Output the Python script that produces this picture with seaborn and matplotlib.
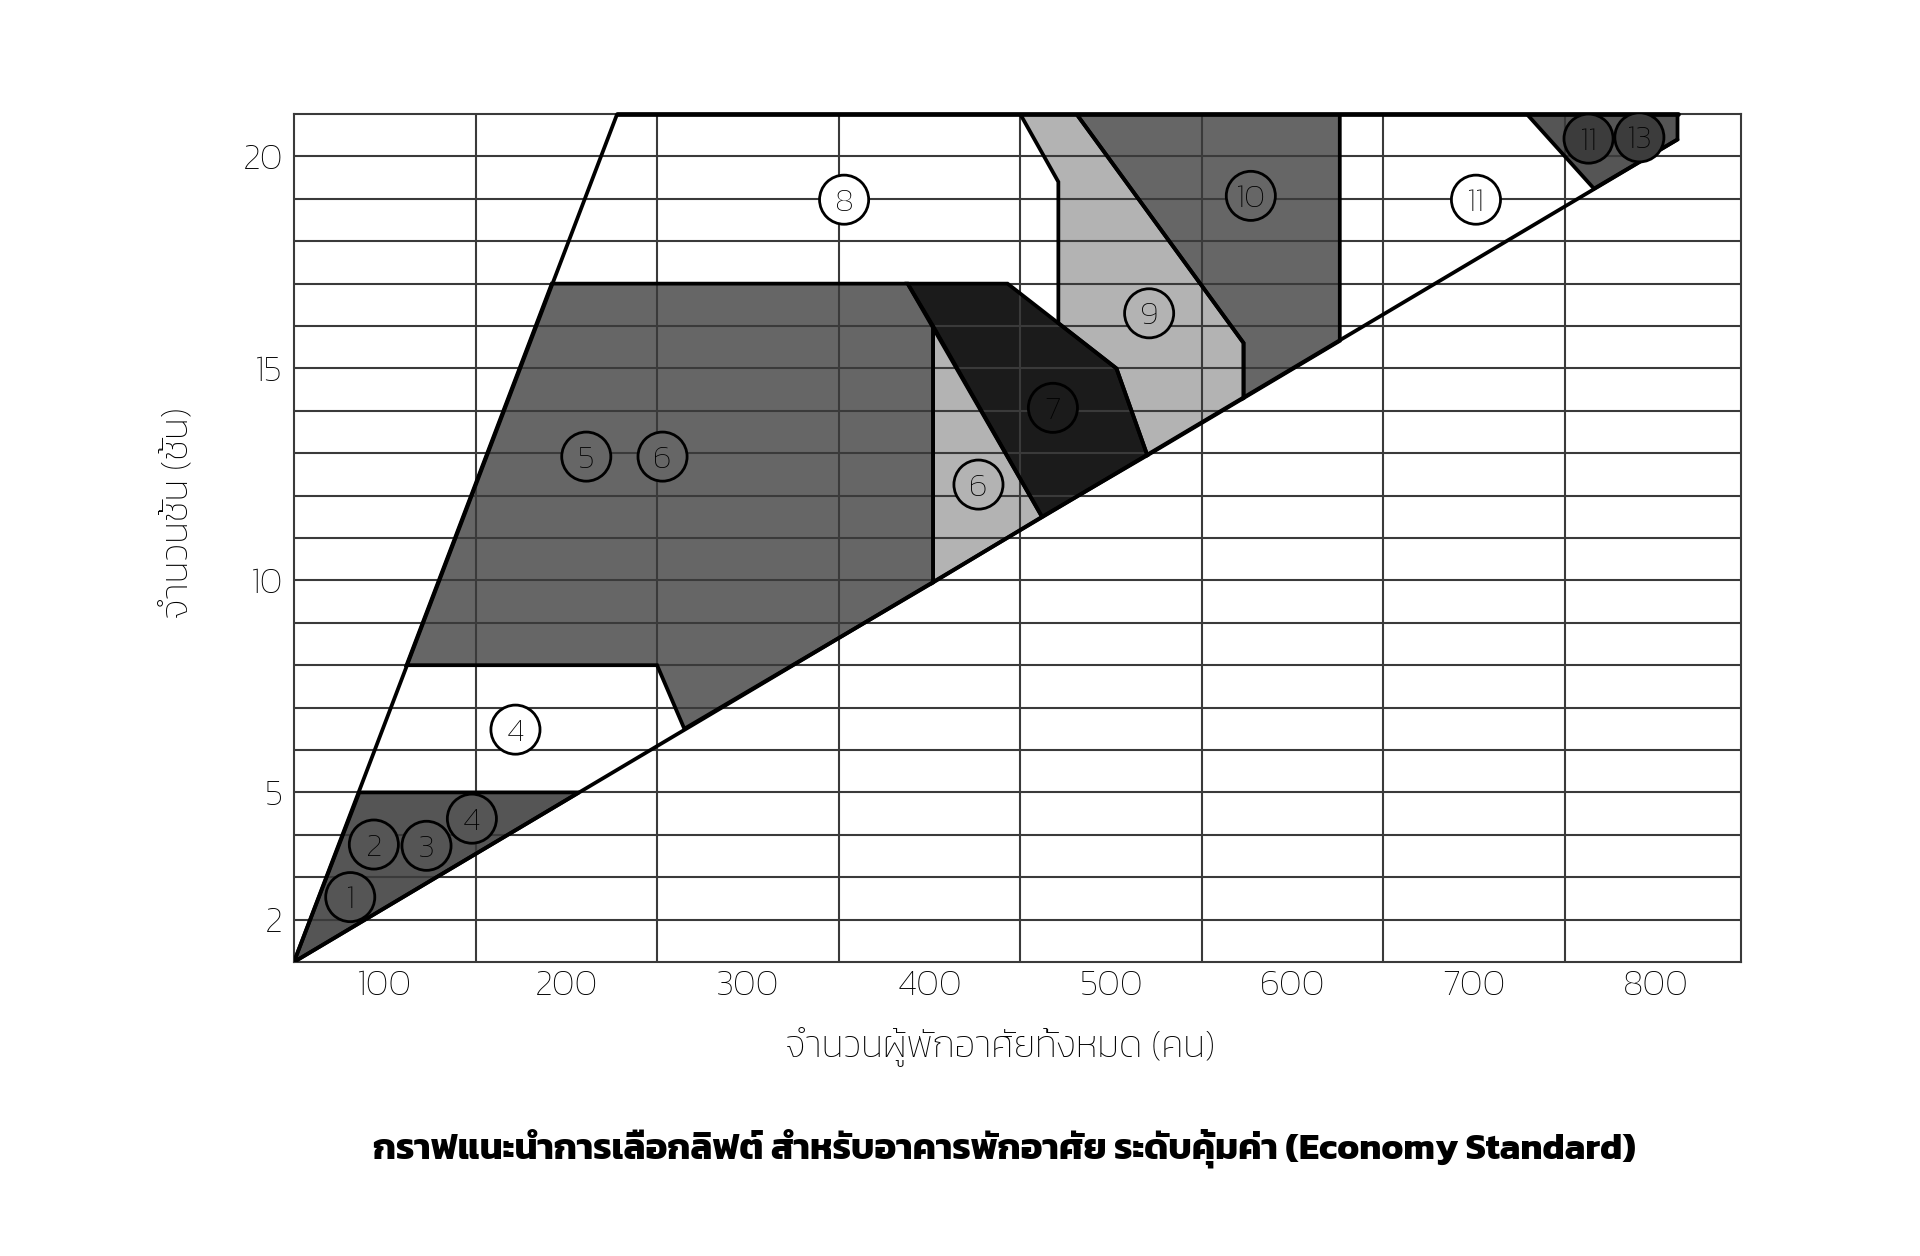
import matplotlib
matplotlib.use("Agg")
import matplotlib.pyplot as plt
import seaborn as sns

# -----------------------------
# data (persons on x, floors on y)
# -----------------------------
x_ticks = [100, 200, 300, 400, 500, 600, 700, 800]
y_ticks = [2, 5, 10, 15, 20]

# outer boundary lines
left_x = [50, 228]
left_y = [1, 21]
low_x = [50, 812]
low_y = [1, 20.4]
top_x = [228, 812]
top_y = [21, 21]

# zones (polygons)
zone_1to4_x = [50, 86, 207]
zone_1to4_y = [1, 5, 5]
zone_56_x = [112, 192, 388, 402, 402, 265, 250]
zone_56_y = [8, 17, 17, 16, 9.95, 6.5, 8]
zone_6_x = [402, 402, 462]
zone_6_y = [16, 9.95, 11.5]
zone_7_x = [388, 443, 503, 520, 462]
zone_7_y = [17, 17, 15, 12.95, 11.5]
zone_9_x = [450, 481, 573, 573, 520, 503, 471, 471]
zone_9_y = [21, 21, 15.6, 14.3, 12.95, 15, 16.07, 19.4]
zone_10_x = [481, 626, 626, 573, 573]
zone_10_y = [21, 21, 15.65, 14.3, 15.6]
zone_1113_x = [729, 812, 812, 766]
zone_1113_y = [21, 21, 20.4, 19.24]

# circled numbers
label_text = ["1", "2", "3", "4", "4", "5", "6", "6", "7", "8", "9", "10", "11", "11", "13"]
label_x = [81, 94, 123, 148, 172, 211, 253, 427, 468, 353, 521, 577, 701, 763, 791]
label_y = [2.53, 3.77, 3.74, 4.38, 6.48, 12.92, 12.92, 12.26, 14.07, 18.98, 16.3, 19.07, 18.98, 20.42, 20.45]
label_fill = ["dark", "dark", "dark", "dark", "white", "mid", "mid", "light", "black",
              "white", "light", "mid", "white", "deep", "deep"]

x_title = "จำนวนผู้พักอาศัยทั้งหมด (คน)"
y_title = "จำนวนชั้น (ชั้น)"
chart_title = "กราฟแนะนำการเลือกลิฟต์ สำหรับอาคารพักอาศัย ระดับคุ้มค่า (Economy Standard)"

colors = {"dark": "#555555", "mid": "#666666", "light": "#b3b3b3",
          "black": "#1b1b1b", "white": "#ffffff", "deep": "#3c3c3c"}

# -----------------------------
# style
# -----------------------------
sns.set_style("white")
plt.rcParams["font.family"] = ["Kanit", "DejaVu Sans"]
grid_col = "#3a3a3a"
txt_col = "black"

fig = plt.figure(figsize=(19.2, 12.56), dpi=100)
ax = fig.add_axes([0.1531, 0.2341, 0.7537, 0.6751])

# fills
zones = [
    (zone_1to4_x, zone_1to4_y, "dark"),
    (zone_56_x, zone_56_y, "mid"),
    (zone_6_x, zone_6_y, "light"),
    (zone_7_x, zone_7_y, "black"),
    (zone_9_x, zone_9_y, "light"),
    (zone_10_x, zone_10_y, "mid"),
    (zone_1113_x, zone_1113_y, "dark"),
]
for zx, zy, c in zones:
    ax.fill(zx, zy, facecolor=colors[c], edgecolor="none", zorder=1)
for zx, zy, c in zones:
    ax.fill(zx, zy, facecolor="none", edgecolor="black", lw=2.7, zorder=3,
            joinstyle="miter")

# boundary lines
sns.lineplot(x=left_x, y=left_y, color="black", lw=2.7, zorder=3, ax=ax)
sns.lineplot(x=low_x, y=low_y, color="black", lw=2.7, zorder=3, ax=ax)
sns.lineplot(x=top_x, y=top_y, color="black", lw=3.4, zorder=3, ax=ax, clip_on=False)

# circled numbers
sns.scatterplot(x=label_x, y=label_y, hue=label_fill, palette=colors, s=1250,
                edgecolor="black", linewidth=2.0, legend=False, zorder=4, ax=ax)
for t, x, y in zip(label_text, label_x, label_y):
    ax.text(x, y, t, ha="center", va="center_baseline", fontsize=24,
            fontweight="light", color="black", zorder=5)

# axes, grid
ax.set_xlim(50, 847)
ax.set_ylim(1, 21)
ax.set_xticks(range(150, 800, 100))
ax.set_xticklabels([])
ax.set_xticks(x_ticks, minor=True)
ax.set_xticklabels([str(v) for v in x_ticks], minor=True)
ax.set_yticks(range(2, 21))
ax.set_yticklabels([str(v) if v in y_ticks else "" for v in range(2, 21)])
ax.tick_params(axis="both", which="both", length=0, labelsize=26, labelcolor=txt_col)
ax.tick_params(axis="x", which="minor", pad=6)
ax.tick_params(axis="y", pad=8)
for lab in ax.get_xticklabels(minor=True) + ax.get_yticklabels():
    lab.set_fontweight("light")
ax.grid(which="major", color=grid_col, lw=1.5)
ax.set_axisbelow(False)
for sp in ax.spines.values():
    sp.set_visible(True)
    sp.set_color(grid_col)
    sp.set_linewidth(1.5)
    sp.set_zorder(2.5)

ax.set_xlabel(x_title, fontsize=27, fontweight="light", color=txt_col, labelpad=17)
ax.set_ylabel(y_title, fontsize=27, fontweight="light", color=txt_col, labelpad=34)
ax.xaxis.label.set_x(0.488)
ax.yaxis.label.set_y(0.53)

fig.text(0.523, 0.086, chart_title, ha="center", va="center", fontsize=26.3,
         fontweight="bold", color="black")

fig.savefig("out.png", dpi=100)
